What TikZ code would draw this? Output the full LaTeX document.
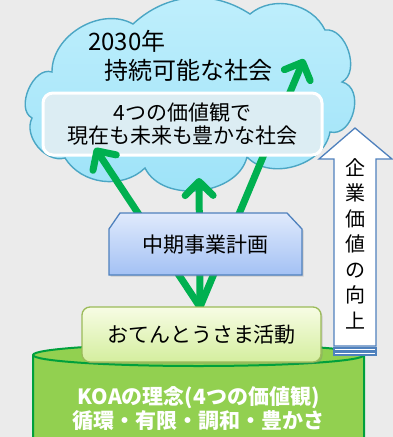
\documentclass[tikz,border=0pt]{standalone}
\usepackage{fontspec}
\setmainfont{Noto Sans CJK JP}
\usetikzlibrary{arrows.meta, positioning, shadows}

\definecolor{bgGray}{RGB}{235,235,235}
\definecolor{cloudTop}{RGB}{192,239,252}
\definecolor{cloudBot}{RGB}{156,226,248}
\definecolor{cloudLine}{RGB}{75,166,196}
\definecolor{visionFill}{RGB}{220,237,243}
\definecolor{koaGreen}{RGB}{0,176,80}
\definecolor{planTop}{RGB}{224,234,252}
\definecolor{planBot}{RGB}{163,193,244}
\definecolor{planLine}{RGB}{79,129,189}
\definecolor{actTop}{RGB}{247,252,228}
\definecolor{actBot}{RGB}{212,238,158}
\definecolor{actLine}{RGB}{155,187,89}
\definecolor{baseFill}{RGB}{146,208,80}
\definecolor{baseLine}{RGB}{0,160,60}

\tikzstyle{cloudshape} = [draw=cloudLine, line width=1.4pt, top color=cloudTop, bottom color=cloudBot]
\tikzstyle{arrow} = [koaGreen, line width=7pt, -{Straight Barb[length=14pt,width=28pt,round]}]

\begin{document}
\begin{tikzpicture}[
    x=1pt, y=-1pt,
    every node/.style={align=center, font=\fontsize{21}{23}\selectfont},
    visionbox/.style={draw=white, line width=3pt, rounded corners=10pt, fill=visionFill, minimum width=279pt, minimum height=62pt},
    planshape/.style={draw=planLine, line width=1.3pt, top color=planTop, bottom color=planBot, drop shadow={shadow xshift=1.5pt, shadow yshift=-1.5pt, opacity=.3}},
    actbox/.style={draw=actLine, line width=1.3pt, rounded corners=8pt, top color=actTop, bottom color=actBot, minimum width=239pt, minimum height=55pt, drop shadow={shadow xshift=1.5pt, shadow yshift=-1.5pt, opacity=.3}},
    baseshape/.style={draw=baseLine, line width=2pt, fill=baseFill},
    gainarrow/.style={draw=planLine, line width=1.3pt, fill=white}
]

\path[use as bounding box, fill=bgGray] (0,0) rectangle (393,437);
\clip (0,0) rectangle (393,437);

% Cloud
\path[cloudshape] (52,72) to[bend left=60] (133,24) to[bend left=38] (250,14)
    to[bend left=52] (325,30) to[bend left=80] (342,82)
    to[bend left=90, looseness=1.2] (330,132) to[bend left=63] (247,157)
    to[bend left=70] (145,168) to[bend left=51] (65,158)
    to[bend left=66] (32,118) to[bend left=85] (52,72) -- cycle;

\node (year) [inner sep=0, anchor=west, font=\fontsize{24}{26}\selectfont] at (88,41) {2030年};
\node (goal) [inner sep=0, anchor=west, font=\fontsize{24}{26}\selectfont] at (104,70) {持続可能な社会};

\coordinate (tipL) at (95,148);
\coordinate (tipM) at (199,178);
\coordinate (tipR) at (304,59);
\coordinate (root) at (200,307);

% Arrows
\draw [arrow] (root) -- (tipR);
\node (vision) [visionbox] at (182.5,124) {4つの価値観で\\現在も未来も豊かな社会};
\draw [arrow] (root) -- (tipL);
\draw [arrow] (root) -- (tipM);

% Plan
\path[planshape] (109,275) -- (109,229) -- (120,213) -- (287,213) -- (302,229) -- (302,275) -- cycle;
\node (plan) at (205.5,245) {中期事業計画};

% Base
\path[baseshape] (33,355) -- (33,450) -- (364,450) -- (364,355)
    arc[start angle=0, end angle=180, x radius=165.5pt, y radius=11pt] -- cycle;
\draw[baseLine, line width=2pt] (33,355) arc[start angle=180, end angle=360, x radius=165.5pt, y radius=11pt];
\node (base) [text=white, font=\bfseries\fontsize{21}{24}\selectfont] at (198.5,409) {KOAの理念(4つの価値観)\\循環・有限・調和・豊かさ};

\node (act) [actbox] at (201.5,334.5) {おてんとうさま活動};

% Gain
\path[gainarrow] (334,346) -- (334,159) -- (319,159) -- (355,128) -- (392,159) -- (376,159) -- (376,346) -- cycle;
\path[gainarrow] (334,348) rectangle (376,350.5);
\path[gainarrow] (334,352) rectangle (376,355);
\node (gain) [font=\fontsize{20}{25.5}\selectfont] at (355,243.5) {企\\業\\価\\値\\の\\向\\上};

\end{tikzpicture}
\end{document}
